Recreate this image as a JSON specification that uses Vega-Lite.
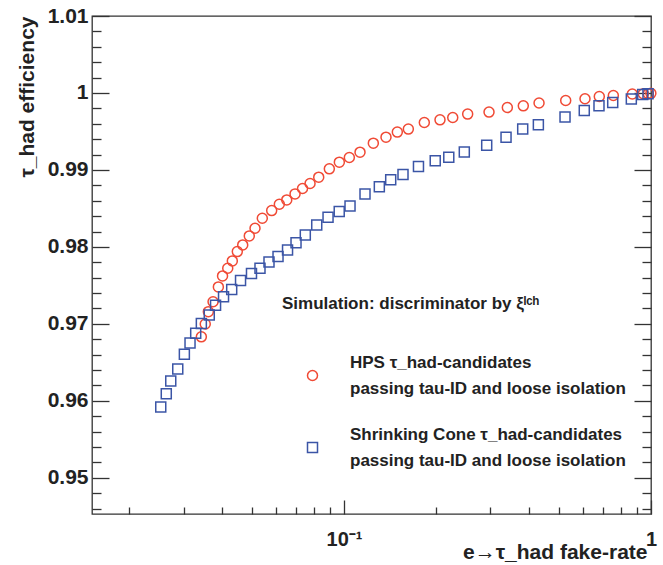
{
  "$schema": "https://vega.github.io/schema/vega-lite/v6.json",
  "width": 559,
  "height": 498,
  "autosize": {"type": "none"},
  "padding": {"left": 92, "top": 16, "right": 12, "bottom": 51},
  "background": "white",
  "config": {"view": {"stroke": "#333333", "strokeWidth": 1.3}, "font": "Liberation Sans", "style": {"guide-label": {"lineHeight": 26}}},
  "data": {"values": [
    {"s": "HPS", "x": 0.03429, "y": 0.96832},
    {"s": "HPS", "x": 0.03531, "y": 0.96999},
    {"s": "HPS", "x": 0.03614, "y": 0.97159},
    {"s": "HPS", "x": 0.03744, "y": 0.97287},
    {"s": "HPS", "x": 0.03896, "y": 0.9748},
    {"s": "HPS", "x": 0.0402, "y": 0.97623},
    {"s": "HPS", "x": 0.0418, "y": 0.97723},
    {"s": "HPS", "x": 0.04326, "y": 0.97818},
    {"s": "HPS", "x": 0.04491, "y": 0.97939},
    {"s": "HPS", "x": 0.04677, "y": 0.98026},
    {"s": "HPS", "x": 0.04913, "y": 0.98143},
    {"s": "HPS", "x": 0.05129, "y": 0.98243},
    {"s": "HPS", "x": 0.05417, "y": 0.98373},
    {"s": "HPS", "x": 0.05812, "y": 0.98472},
    {"s": "HPS", "x": 0.06155, "y": 0.98555},
    {"s": "HPS", "x": 0.06507, "y": 0.98611},
    {"s": "HPS", "x": 0.06925, "y": 0.98689},
    {"s": "HPS", "x": 0.07325, "y": 0.98759},
    {"s": "HPS", "x": 0.0775, "y": 0.98824},
    {"s": "HPS", "x": 0.08271, "y": 0.98906},
    {"s": "HPS", "x": 0.08956, "y": 0.99014},
    {"s": "HPS", "x": 0.09654, "y": 0.99101},
    {"s": "HPS", "x": 0.10406, "y": 0.99161},
    {"s": "HPS", "x": 0.11274, "y": 0.99231},
    {"s": "HPS", "x": 0.12458, "y": 0.99348},
    {"s": "HPS", "x": 0.137, "y": 0.99426},
    {"s": "HPS", "x": 0.14915, "y": 0.99492},
    {"s": "HPS", "x": 0.162, "y": 0.99531},
    {"s": "HPS", "x": 0.18262, "y": 0.99616},
    {"s": "HPS", "x": 0.20542, "y": 0.99651},
    {"s": "HPS", "x": 0.22603, "y": 0.99681},
    {"s": "HPS", "x": 0.2528, "y": 0.99726},
    {"s": "HPS", "x": 0.2967, "y": 0.99752},
    {"s": "HPS", "x": 0.3404, "y": 0.99811},
    {"s": "HPS", "x": 0.3837, "y": 0.99833},
    {"s": "HPS", "x": 0.4318, "y": 0.99869},
    {"s": "HPS", "x": 0.5274, "y": 0.99902},
    {"s": "HPS", "x": 0.6095, "y": 0.99925},
    {"s": "HPS", "x": 0.6785, "y": 0.99954},
    {"s": "HPS", "x": 0.7539, "y": 0.99967},
    {"s": "HPS", "x": 0.8692, "y": 0.99986},
    {"s": "HPS", "x": 0.9439, "y": 0.9999},
    {"s": "HPS", "x": 0.9799, "y": 0.9999},
    {"s": "HPS", "x": 0.999, "y": 0.99995},
    {"s": "SC", "x": 0.02529, "y": 0.95919},
    {"s": "SC", "x": 0.02636, "y": 0.96092},
    {"s": "SC", "x": 0.02726, "y": 0.96257},
    {"s": "SC", "x": 0.02873, "y": 0.96413},
    {"s": "SC", "x": 0.03019, "y": 0.96605},
    {"s": "SC", "x": 0.0315, "y": 0.96752},
    {"s": "SC", "x": 0.03287, "y": 0.96878},
    {"s": "SC", "x": 0.03429, "y": 0.97005},
    {"s": "SC", "x": 0.03639, "y": 0.97116},
    {"s": "SC", "x": 0.03815, "y": 0.97242},
    {"s": "SC", "x": 0.0405, "y": 0.97354},
    {"s": "SC", "x": 0.04306, "y": 0.97446},
    {"s": "SC", "x": 0.04601, "y": 0.97564},
    {"s": "SC", "x": 0.04995, "y": 0.97653},
    {"s": "SC", "x": 0.05324, "y": 0.97723},
    {"s": "SC", "x": 0.05696, "y": 0.97805},
    {"s": "SC", "x": 0.06095, "y": 0.97874},
    {"s": "SC", "x": 0.06546, "y": 0.97961},
    {"s": "SC", "x": 0.06976, "y": 0.98055},
    {"s": "SC", "x": 0.07479, "y": 0.98156},
    {"s": "SC", "x": 0.08149, "y": 0.98286},
    {"s": "SC", "x": 0.0887, "y": 0.98386},
    {"s": "SC", "x": 0.09646, "y": 0.98459},
    {"s": "SC", "x": 0.1046, "y": 0.98533},
    {"s": "SC", "x": 0.11704, "y": 0.98689},
    {"s": "SC", "x": 0.13032, "y": 0.9878},
    {"s": "SC", "x": 0.14192, "y": 0.98871},
    {"s": "SC", "x": 0.15564, "y": 0.98941},
    {"s": "SC", "x": 0.17479, "y": 0.99044},
    {"s": "SC", "x": 0.1982, "y": 0.99118},
    {"s": "SC", "x": 0.2194, "y": 0.99164},
    {"s": "SC", "x": 0.2465, "y": 0.99233},
    {"s": "SC", "x": 0.2916, "y": 0.99322},
    {"s": "SC", "x": 0.3371, "y": 0.99426},
    {"s": "SC", "x": 0.382, "y": 0.99531},
    {"s": "SC", "x": 0.4296, "y": 0.99586},
    {"s": "SC", "x": 0.5247, "y": 0.99687},
    {"s": "SC", "x": 0.6062, "y": 0.99772},
    {"s": "SC", "x": 0.677, "y": 0.99834},
    {"s": "SC", "x": 0.7504, "y": 0.99876},
    {"s": "SC", "x": 0.8628, "y": 0.99921},
    {"s": "SC", "x": 0.9397, "y": 0.9998},
    {"s": "SC", "x": 0.9777, "y": 0.99989}
  ]},
  "layer": [
    {
      "mark": {"type": "point", "filled": false, "strokeWidth": 1.5, "size": 100, "opacity": 1},
      "encoding": {
        "x": {
          "field": "x", "type": "quantitative",
          "scale": {"type": "log", "domain": [0.0151, 1], "nice": false},
          "axis": {
            "values": [0.02, 0.03, 0.04, 0.05, 0.06, 0.07, 0.08, 0.09, 0.1, 0.2, 0.3, 0.4, 0.5, 0.6, 0.7, 0.8, 0.9, 1],
            "domain": false, "grid": false,
            "tickColor": "#333333", "tickWidth": 1.3,
            "tickSize": {"condition": {"test": "datum.value == 0.1 || datum.value == 1", "value": -14}, "value": -7},
            "labelExpr": "datum.value == 0.1 ? '10⁻¹' : (datum.value == 1 ? '1' : '')",
            "labelFont": "Liberation Sans", "labelFontSize": 20, "labelFontWeight": "bold", "labelColor": "#222222",
            "labelPadding": 29, "labelOverlap": false, "labelFlush": false,
            "title": "e→τ_had fake-rate",
            "titleFont": "Liberation Sans", "titleFontSize": 21, "titleFontWeight": "bold", "titleColor": "#222222",
            "titleAnchor": "end", "titleAlign": "right", "titleBaseline": "alphabetic", "titleX": 555, "titleY": 44,
            "encode": {"labels": {"dy": {"condition": {"test": "datum.value == 1", "value": -24}, "value": 0}}}
          }
        },
        "y": {
          "field": "y", "type": "quantitative",
          "scale": {"domain": [0.9453, 1.01], "nice": false, "zero": false},
          "axis": {
            "values": [0.946, 0.948, 0.95, 0.952, 0.954, 0.956, 0.958, 0.96, 0.962, 0.964, 0.966, 0.968, 0.97, 0.972, 0.974, 0.976, 0.978, 0.98, 0.982, 0.984, 0.986, 0.988, 0.99, 0.992, 0.994, 0.996, 0.998, 1, 1.002, 1.004, 1.006, 1.008, 1.01],
            "domain": false, "grid": false,
            "tickColor": "#333333", "tickWidth": 1.3,
            "tickSize": {"condition": {"test": "abs(datum.value*100 - round(datum.value*100)) < 0.001", "value": -17}, "value": -9},
            "labelExpr": "abs(datum.value*100 - round(datum.value*100)) < 0.001 ? (datum.value == 1 ? '1' : format(datum.value, '.2f')) : ''",
            "labelFont": "Liberation Sans", "labelFontSize": 21, "labelFontWeight": "bold", "labelColor": "#222222",
            "labelPadding": 21, "labelOverlap": false, "labelFlush": false,
            "title": "τ_had efficiency",
            "titleFont": "Liberation Sans", "titleFontSize": 21, "titleFontWeight": "bold", "titleColor": "#222222",
            "titleAngle": -90, "titleAnchor": "end", "titleAlign": "right", "titleBaseline": "alphabetic", "titleX": -59, "titleY": 0
          }
        },
        "color": {
          "field": "s", "type": "nominal",
          "scale": {"domain": ["HPS", "SC"], "range": ["#f04a35", "#3b55a6"]},
          "legend": {
            "orient": "none", "legendX": 190, "legendY": 280, "padding": 0,
            "title": "Simulation: discriminator by ξˡᶜʰ",
            "titleFont": "Liberation Sans", "titleFontSize": 17, "titleFontWeight": "bold", "titleColor": "#222222", "titlePadding": 54, "titleLimit": 500,
            "labelFont": "Liberation Sans", "labelFontSize": 17, "labelFontWeight": "bold", "labelColor": "#222222", "labelLimit": 500, "labelOffset": 29,
            "labelBaseline": "line-bottom",
            "symbolOffset": 22, "symbolSize": 100, "symbolStrokeWidth": 1.5, "rowPadding": 28,
            "labelExpr": "datum.value == 'HPS' ? ['HPS τ_had-candidates', 'passing tau-ID and loose isolation'] : ['Shrinking Cone τ_had-candidates', 'passing tau-ID and loose isolation']"
          }
        },
        "shape": {
          "field": "s", "type": "nominal",
          "scale": {"domain": ["HPS", "SC"], "range": ["circle", "square"]},
          "legend": {
            "orient": "none", "legendX": 190, "legendY": 280, "padding": 0,
            "title": "Simulation: discriminator by ξˡᶜʰ",
            "titleFont": "Liberation Sans", "titleFontSize": 17, "titleFontWeight": "bold", "titleColor": "#222222", "titlePadding": 54, "titleLimit": 500,
            "labelFont": "Liberation Sans", "labelFontSize": 17, "labelFontWeight": "bold", "labelColor": "#222222", "labelLimit": 500, "labelOffset": 29,
            "labelBaseline": "line-bottom",
            "symbolOffset": 22, "symbolSize": 100, "symbolStrokeWidth": 1.5, "rowPadding": 28,
            "labelExpr": "datum.value == 'HPS' ? ['HPS τ_had-candidates', 'passing tau-ID and loose isolation'] : ['Shrinking Cone τ_had-candidates', 'passing tau-ID and loose isolation']"
          }
        }
      }
    },
    {
      "mark": {"type": "point", "opacity": 0},
      "encoding": {
        "x": {"field": "x", "type": "quantitative", "axis": null},
        "y": {
          "field": "y", "type": "quantitative",
          "axis": {
            "orient": "right",
            "values": [0.946, 0.948, 0.95, 0.952, 0.954, 0.956, 0.958, 0.96, 0.962, 0.964, 0.966, 0.968, 0.97, 0.972, 0.974, 0.976, 0.978, 0.98, 0.982, 0.984, 0.986, 0.988, 0.99, 0.992, 0.994, 0.996, 0.998, 1, 1.002, 1.004, 1.006, 1.008, 1.01],
            "domain": false, "grid": false, "labels": false, "title": null,
            "tickColor": "#333333", "tickWidth": 1.3,
            "tickSize": {"condition": {"test": "abs(datum.value*100 - round(datum.value*100)) < 0.001", "value": -17}, "value": -9}
          }
        }
      }
    }
  ],
  "resolve": {"axis": {"x": "independent", "y": "independent"}}
}
